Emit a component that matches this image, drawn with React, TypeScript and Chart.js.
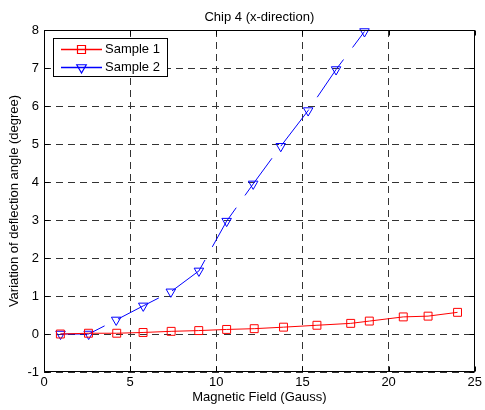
import React, { useEffect, useRef } from "react";
import { Chart, registerables } from "chart.js";

Chart.register(...registerables);

const chartTitle = "Chip 4 (x-direction)";
const xTitle = "Magnetic Field (Gauss)";
const yTitle = "Variation of deflection angle (degree)";
const seriesNames = ["Sample 1", "Sample 2"];

const sample1X = [0.95, 2.58, 4.22, 5.75, 7.38, 8.98, 10.6, 12.2, 13.9, 15.84, 17.8, 18.88, 20.85, 22.29, 24.0];
const sample1Y = [0.0, 0.02, 0.02, 0.04, 0.07, 0.09, 0.12, 0.14, 0.18, 0.23, 0.28, 0.34, 0.45, 0.47, 0.57];

const sample2X = [0.96, 2.59, 4.19, 5.76, 7.36, 8.99, 10.6, 12.14, 13.74, 15.33, 16.95, 18.6];
const sample2Y = [0.0, 0.0, 0.37, 0.74, 1.11, 1.66, 2.97, 3.95, 4.94, 5.88, 6.96, 7.96];

const xTicks = [0, 5, 10, 15, 20, 25];
const yTicks = [-1, 0, 1, 2, 3, 4, 5, 6, 7, 8];

const FONT = "'Liberation Sans', Arial, sans-serif";
const RED = "#ff0000";
const BLUE = "#0000ff";

function drawLegendRow(ctx: CanvasRenderingContext2D, y: number, color: string, name: string, marker: string) {
  ctx.save();
  ctx.setLineDash([]);
  ctx.lineWidth = 1.5;
  ctx.strokeStyle = color;
  ctx.beginPath();
  ctx.moveTo(61, y);
  ctx.lineTo(102, y);
  ctx.stroke();
  const mx = 81.5;
  ctx.lineWidth = 1.2;
  ctx.beginPath();
  if (marker === "rect") {
    ctx.rect(mx - 4, y - 4, 8, 8);
  } else {
    const rr = 5.5;
    ctx.moveTo(mx, y + rr);
    ctx.lineTo(mx - rr * Math.sin(Math.PI / 3), y - rr / 2);
    ctx.lineTo(mx + rr * Math.sin(Math.PI / 3), y - rr / 2);
    ctx.closePath();
  }
  ctx.stroke();
  ctx.fillStyle = "#000";
  ctx.font = `13px ${FONT}`;
  ctx.textAlign = "left";
  ctx.textBaseline = "middle";
  ctx.fillText(name, 105, y);
  ctx.restore();
}

const framePlugin = {
  id: "matlabFrame",
  afterDraw(chart: any) {
    const { ctx, chartArea, scales } = chart;
    const l = Math.round(chartArea.left) + 0.5;
    const r = Math.round(chartArea.right) - 0.5;
    const t = Math.round(chartArea.top) + 0.5;
    const b = Math.round(chartArea.bottom) - 0.5;
    ctx.save();
    ctx.strokeStyle = "#000";
    ctx.lineWidth = 1;
    ctx.setLineDash([]);
    ctx.beginPath();
    ctx.rect(l, t, r - l, b - t);
    ctx.stroke();
    ctx.beginPath();
    const tl = 5;
    xTicks.forEach((v) => {
      const px = Math.round(scales.x.getPixelForValue(v)) + 0.5;
      ctx.moveTo(px, b);
      ctx.lineTo(px, b - tl);
      ctx.moveTo(px, t);
      ctx.lineTo(px, t + tl);
    });
    yTicks.forEach((v) => {
      const py = Math.round(scales.y.getPixelForValue(v)) + 0.5;
      ctx.moveTo(l, py);
      ctx.lineTo(l + tl, py);
      ctx.moveTo(r, py);
      ctx.lineTo(r - tl, py);
    });
    ctx.stroke();

    ctx.fillStyle = "#000";
    ctx.font = `13px ${FONT}`;
    ctx.textAlign = "center";
    ctx.textBaseline = "alphabetic";
    ctx.fillText(chartTitle, (chartArea.left + chartArea.right) / 2, 21);

    ctx.fillStyle = "#fff";
    ctx.fillRect(53.5, 38.5, 114, 38);
    ctx.strokeStyle = "#000";
    ctx.strokeRect(53.5, 38.5, 114, 38);
    ctx.restore();

    drawLegendRow(ctx, 49.5, RED, seriesNames[0], "rect");
    drawLegendRow(ctx, 67.5, BLUE, seriesNames[1], "tri");
  },
};

export default function App() {
  const ref = useRef<HTMLCanvasElement | null>(null);

  useEffect(() => {
    if (!ref.current) return;
    const tickFont = { family: FONT, size: 13 };
    const chart = new Chart(ref.current, {
      type: "line",
      data: {
        datasets: [
          {
            label: seriesNames[0],
            data: sample1X.map((x, i) => ({ x, y: sample1Y[i] })),
            borderColor: RED,
            backgroundColor: "rgba(0,0,0,0)",
            borderWidth: 1,
            pointStyle: "rect",
            pointRadius: 5.6,
            pointBorderWidth: 1,
            pointBorderColor: RED,
            pointBackgroundColor: "rgba(0,0,0,0)",
            tension: 0,
            clip: false,
          },
          {
            label: seriesNames[1],
            data: sample2X.map((x, i) => ({ x, y: sample2Y[i] })),
            borderColor: BLUE,
            backgroundColor: "rgba(0,0,0,0)",
            borderWidth: 1,
            borderDash: [46, 15],
            pointStyle: "triangle",
            pointRotation: 180,
            pointRadius: 5.5,
            pointBorderWidth: 1,
            pointBorderColor: BLUE,
            pointBackgroundColor: "rgba(0,0,0,0)",
            tension: 0,
            clip: false,
          },
        ],
      },
      options: {
        responsive: false,
        animation: false,
        devicePixelRatio: 1,
        layout: { padding: { top: 30, right: 7, left: 0, bottom: 0 } },
        plugins: {
          legend: { display: false },
          tooltip: { enabled: false },
          title: { display: false },
        },
        scales: {
          x: {
            type: "linear",
            min: 0,
            max: 25,
            afterBuildTicks: (s: any) => {
              s.ticks = xTicks.map((v) => ({ value: v }));
            },
            ticks: { color: "#000", font: tickFont, padding: 3, maxRotation: 0, autoSkip: false },
            grid: { color: "#333", lineWidth: 1, drawTicks: false },
            border: { display: false, dash: [7, 5] },
            title: {
              display: true,
              text: xTitle,
              color: "#000",
              font: tickFont,
              padding: { top: 0, bottom: 5 },
            },
            afterFit: (s: any) => {
              s.height = 38;
            },
          },
          y: {
            type: "linear",
            min: -1,
            max: 8,
            afterBuildTicks: (s: any) => {
              s.ticks = yTicks.map((v) => ({ value: v }));
            },
            ticks: { color: "#000", font: tickFont, padding: 5, autoSkip: false },
            grid: { color: "#333", lineWidth: 1, drawTicks: false },
            border: { display: false, dash: [7, 5] },
            title: {
              display: true,
              text: yTitle,
              color: "#000",
              font: tickFont,
              padding: { top: 7, bottom: 0 },
            },
            afterFit: (s: any) => {
              s.width = 44;
            },
          },
        },
      },
      plugins: [framePlugin],
    } as any);
    return () => chart.destroy();
  }, []);

  return (
    <div style={{ position: "absolute", left: 0, top: 0, width: 485, height: 410, background: "#fff" }}>
      <canvas ref={ref} width={485} height={410} style={{ display: "block", width: 485, height: 410 }} />
    </div>
  );
}
